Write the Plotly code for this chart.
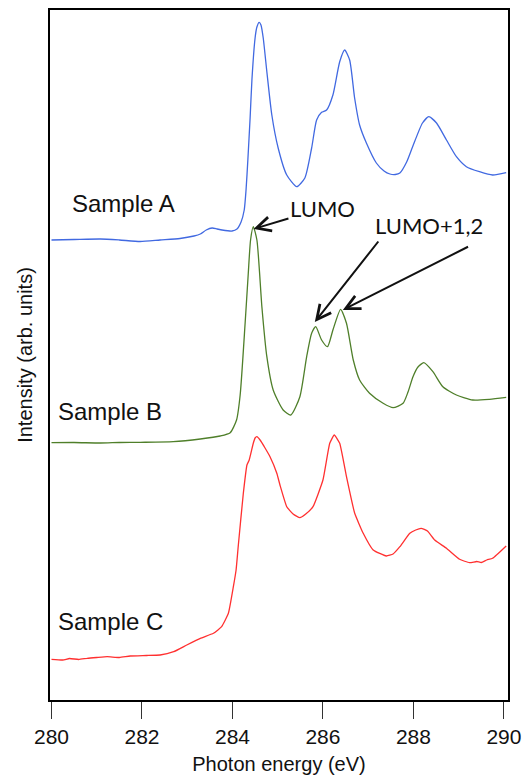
import plotly.graph_objects as go

# ---- data (photon energy in eV, intensity in arb. units incl. vertical offset) ----
energy_a = [280.00, 280.50, 281.08, 281.50, 281.96, 282.40, 282.84, 283.15, 283.29, 283.42, 283.55,
            283.66, 283.77, 283.99, 284.10, 284.19,
            284.26, 284.30, 284.34, 284.39, 284.43, 284.50, 284.54, 284.59, 284.63, 284.68,
            284.76, 284.87, 285.01, 285.20, 285.42, 285.60, 285.75, 285.86, 285.97, 286.08,
            286.22, 286.37, 286.48, 286.59, 286.70, 286.81, 286.96, 287.18, 287.35, 287.48,
            287.60, 287.70, 287.85, 287.98, 288.20, 288.34, 288.51, 288.73, 288.95, 289.17,
            289.46, 289.75, 290.05]
intensity_a = [4.60, 4.605, 4.61, 4.60, 4.585, 4.60, 4.615, 4.64, 4.66, 4.70, 4.72,
               4.71, 4.70, 4.69, 4.71, 4.78,
               4.90, 5.10, 5.40, 5.82, 6.20, 6.62, 6.73, 6.777, 6.75, 6.62,
               6.283, 5.85, 5.52, 5.25, 5.133, 5.22, 5.52, 5.80, 5.877, 5.90,
               6.05, 6.383, 6.50, 6.40, 6.02, 5.75, 5.57, 5.37, 5.29, 5.26,
               5.255, 5.27, 5.38, 5.53, 5.77, 5.833, 5.77, 5.60, 5.433, 5.333,
               5.283, 5.25, 5.273]

energy_b = [280.00, 280.50, 281.08, 281.50, 281.96, 282.69, 283.29, 283.73, 283.95, 284.09,
            284.17, 284.28, 284.35, 284.40, 284.46, 284.54, 284.65, 284.76, 284.90, 285.12,
            285.29, 285.49, 285.64, 285.75, 285.84, 285.97, 286.10, 286.22, 286.39, 286.52,
            286.67, 286.81, 287.03, 287.33, 287.55, 287.77, 287.88, 287.99, 288.10, 288.23,
            288.43, 288.65, 288.95, 289.31, 289.68, 290.05]
intensity_b = [2.573, 2.575, 2.57, 2.575, 2.577, 2.583, 2.61, 2.64, 2.673, 2.80,
               3.05, 3.77, 4.27, 4.60, 4.733, 4.60, 3.933, 3.433, 3.10, 2.90,
               2.85, 3.033, 3.433, 3.667, 3.733, 3.60, 3.533, 3.70, 3.907, 3.767,
               3.40, 3.20, 3.067, 2.967, 2.923, 2.967, 3.08, 3.233, 3.33, 3.373,
               3.283, 3.133, 3.05, 3.00, 3.007, 3.027]

energy_c = [280.00, 280.25, 280.40, 280.60, 280.79, 281.00, 281.23, 281.50, 281.74, 282.10,
            282.40, 282.70, 282.99, 283.29, 283.58, 283.76, 283.91, 284.02, 284.08, 284.13,
            284.24, 284.32, 284.37, 284.46, 284.50, 284.54, 284.61, 284.72, 284.83, 284.98,
            285.05, 285.20, 285.34, 285.49, 285.62, 285.78, 286.00, 286.15, 286.25, 286.37,
            286.52, 286.70, 286.89, 287.11, 287.40, 287.55, 287.70, 287.92, 288.05, 288.17,
            288.31, 288.47, 288.73, 289.02, 289.24, 289.40, 289.50, 289.62, 289.75, 290.05]
intensity_c = [0.407, 0.40, 0.415, 0.405, 0.417, 0.425, 0.433, 0.425, 0.44, 0.445,
               0.45, 0.483, 0.55, 0.617, 0.667, 0.733, 0.867, 1.133, 1.30, 1.55,
               2.067, 2.35, 2.40, 2.567, 2.62, 2.633, 2.60, 2.52, 2.433, 2.267,
               2.15, 1.933, 1.86, 1.823, 1.86, 1.933, 2.20, 2.567, 2.65, 2.567,
               2.233, 1.87, 1.667, 1.50, 1.44, 1.46, 1.533, 1.667, 1.70, 1.717,
               1.69, 1.60, 1.517, 1.407, 1.373, 1.385, 1.375, 1.40, 1.417, 1.54]

x_ticks = [280, 282, 284, 286, 288, 290]

sample_labels = ["Sample A", "Sample B", "Sample C"]
label_x = [280.40, 280.09, 280.09]
label_y = [4.97, 2.89, 0.79]

# arrows: (tip_x, tip_y, tail_x, tail_y)
arrow_tip_x = [284.465, 285.82, 286.44]
arrow_tip_y = [4.71, 3.78, 3.90]
arrow_tail_x = [285.27, 287.25, 289.24]
arrow_tail_y = [4.82, 4.60, 4.54]

peak_texts = ["LUMO", "LUMO+1,2"]
peak_text_x = [286.00, 288.335]
peak_text_y = [4.917, 4.75]

fig = go.Figure()
fig.add_trace(go.Scatter(x=energy_a, y=intensity_a, mode="lines",
                         line=dict(color="#4169e1", width=1.3, shape="spline", smoothing=0.6)))
fig.add_trace(go.Scatter(x=energy_b, y=intensity_b, mode="lines",
                         line=dict(color="#4f7f2a", width=1.3, shape="spline", smoothing=0.6)))
fig.add_trace(go.Scatter(x=energy_c, y=intensity_c, mode="lines",
                         line=dict(color="#ff3030", width=1.3, shape="spline", smoothing=0.4)))

annotations = []
for t, x, y in zip(sample_labels, label_x, label_y):
    annotations.append(dict(x=x, y=y, xref="x", yref="y", text=t, showarrow=False,
                            xanchor="left", yanchor="middle",
                            font=dict(family="Liberation Sans, Arial", size=24, color="#111")))
for t, x, y in zip(peak_texts, peak_text_x, peak_text_y):
    annotations.append(dict(x=x, y=y, xref="x", yref="y", text=t, showarrow=False,
                            xanchor="center", yanchor="middle",
                            font=dict(family="Lato", size=22, color="#111")))
for tx, ty, sx, sy in zip(arrow_tip_x, arrow_tip_y, arrow_tail_x, arrow_tail_y):
    annotations.append(dict(x=tx, y=ty, xref="x", yref="y", ax=sx, ay=sy,
                            axref="x", ayref="y", text="", showarrow=True,
                            arrowhead=5, arrowsize=1.4, arrowwidth=2, arrowcolor="#111"))

fig.update_layout(
    width=525, height=777,
    margin=dict(l=50, r=17, t=10, b=77),
    paper_bgcolor="white", plot_bgcolor="white",
    showlegend=False,
    font=dict(family="Liberation Sans, Arial", color="#111"),
    annotations=annotations,
)
fig.update_xaxes(range=[279.967, 290.09], tickvals=x_ticks, ticktext=[str(v) for v in x_ticks],
                 ticks="outside", ticklen=17, tickwidth=1, tickcolor="#333",
                 tickfont=dict(size=21, color="#111"), automargin=False,
                 showline=True, linecolor="black", linewidth=2, mirror=True,
                 showgrid=False, zeroline=False,
                 title=dict(text="Photon energy (eV)", font=dict(size=20, color="#111"), standoff=10))
fig.update_yaxes(range=[0, 6.9], showticklabels=False, ticks="", automargin=False,
                 showline=True, linecolor="black", linewidth=2, mirror=True,
                 showgrid=False, zeroline=False,
                 title=dict(text="Intensity (arb. units)", font=dict(size=20, color="#111"), standoff=10))

fig.write_html("out.html")
